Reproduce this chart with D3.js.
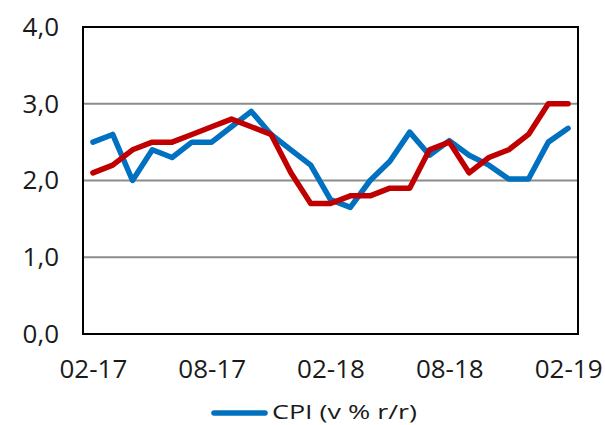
<!DOCTYPE html>
<html><head><meta charset="utf-8">
<script src="https://cdn.jsdelivr.net/npm/d3@7"></script>
<style>html,body{margin:0;padding:0;background:#fff;}</style>
</head><body>
<svg id="c" width="605" height="425"></svg>
<script>
const months = ["02-17","03-17","04-17","05-17","06-17","07-17","08-17","09-17","10-17","11-17","12-17","01-18","02-18","03-18","04-18","05-18","06-18","07-18","08-18","09-18","10-18","11-18","12-18","01-19","02-19"];
const cpi  = [2.5,2.6,2.0,2.4,2.3,2.5,2.5,2.7,2.9,2.6,2.4,2.2,1.75,1.65,2.0,2.25,2.63,2.33,2.52,2.33,2.2,2.02,2.02,2.5,2.68];
const red  = [2.1,2.2,2.4,2.5,2.5,2.6,2.7,2.8,2.7,2.6,2.1,1.7,1.7,1.8,1.8,1.9,1.9,2.4,2.5,2.1,2.3,2.4,2.6,3.0,3.0];
const xTickLabels = ["02-17","08-17","02-18","08-18","02-19"];
const yTicks = [0,1,2,3,4];
const legendLabel = "CPI (v % r/r)";

const svg = d3.select("#c");
const L=83, R=578, T=27, B=334;
const font = "Open Sans";
const x = d3.scalePoint().domain(months).range([L,R]).padding(0.5);
const y = d3.scaleLinear().domain([0,4]).range([B,T]);

// gridlines
svg.append("g").selectAll("line").data(yTicks.filter(d=>d>0&&d<4)).join("line")
  .attr("x1",L).attr("x2",R).attr("y1",d=>y(d)).attr("y2",d=>y(d))
  .attr("stroke","#8c8c8c").attr("stroke-width",2);

// y axis labels
const yAxis = d3.axisLeft(y).tickValues(yTicks).tickSize(0).tickPadding(24)
  .tickFormat(d=>d3.format(".1f")(d).replace(".",","));
svg.append("g").attr("transform",`translate(${L},0)`).call(yAxis)
  .call(g=>g.select(".domain").remove())
  .selectAll("text").attr("font-family",font).attr("font-size",26).attr("fill","#1a1a1a");

// x axis labels
const xAxis = d3.axisBottom(x).tickValues(xTickLabels).tickSize(0).tickPadding(26);
svg.append("g").attr("transform",`translate(0,${B})`).call(xAxis)
  .call(g=>g.select(".domain").remove())
  .selectAll("text").attr("font-family",font).attr("font-size",26).attr("fill","#1a1a1a");

// series
const line = d3.line().x((d,i)=>x(months[i])).y(d=>y(d));
svg.append("path").datum(cpi).attr("d",line).attr("fill","none")
  .attr("stroke","#0070C0").attr("stroke-width",5.5).attr("stroke-linejoin","round").attr("stroke-linecap","round");
svg.append("path").datum(red).attr("d",line).attr("fill","none")
  .attr("stroke","#C00000").attr("stroke-width",5.5).attr("stroke-linejoin","round").attr("stroke-linecap","round");

// frame
svg.append("rect").attr("x",L).attr("y",T).attr("width",R-L).attr("height",B-T)
  .attr("fill","none").attr("stroke","#000").attr("stroke-width",2);

// legend
const lg = svg.append("g");
lg.append("line").attr("x1",214).attr("x2",265).attr("y1",413).attr("y2",413)
  .attr("stroke","#0070C0").attr("stroke-width",5.5).attr("stroke-linecap","round");
lg.append("text").attr("x",272).attr("y",419).text(legendLabel)
  .attr("font-family",font).attr("font-size",20).attr("fill","#1a1a1a")
  .attr("textLength",145).attr("lengthAdjust","spacingAndGlyphs");
</script>
</body></html>
